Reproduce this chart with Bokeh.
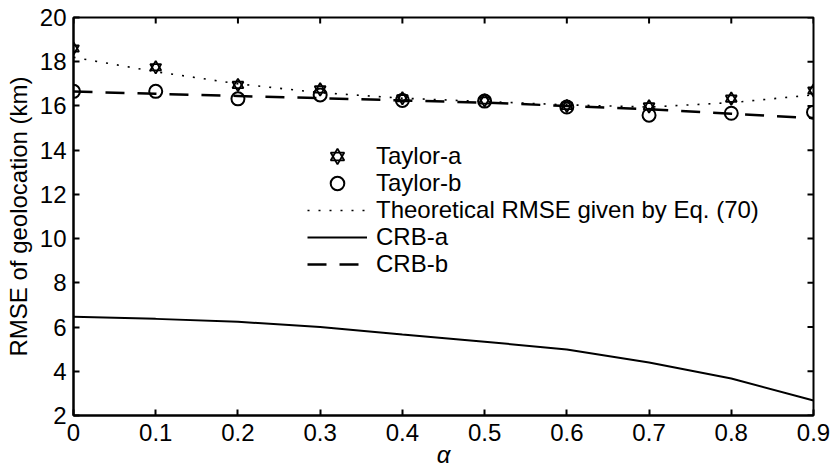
from bokeh.plotting import figure
from bokeh.models import (Legend, LegendItem, FixedTicker, ColumnDataSource,
                          BasicTickFormatter)
from bokeh.embed import file_html
from bokeh.resources import INLINE

# ---- data ----
alpha = [0, 0.1, 0.2, 0.3, 0.4, 0.5, 0.6, 0.7, 0.8, 0.9]
taylor_a = [18.6, 17.75, 16.95, 16.75, 16.35, 16.25, 16.0, 15.98, 16.33, 16.7]
taylor_b = [16.66, 16.66, 16.32, 16.5, 16.25, 16.22, 15.95, 15.58, 15.67, 15.72]
theoretical = [18.2, 17.55, 17.0, 16.6, 16.35, 16.2, 16.05, 15.95, 16.15, 16.5]
crb_a = [6.47, 6.37, 6.24, 6.0, 5.66, 5.34, 4.98, 4.4, 3.67, 2.68]
crb_b = [16.65, 16.55, 16.45, 16.35, 16.25, 16.15, 16.0, 15.85, 15.65, 15.45]

x_ticks = [0, 0.1, 0.2, 0.3, 0.4, 0.5, 0.6, 0.7, 0.8, 0.9]
x_tick_labels = ["0", "0.1", "0.2", "0.3", "0.4", "0.5", "0.6", "0.7", "0.8", "0.9"]
y_ticks = [2, 4, 6, 8, 10, 12, 14, 16, 18, 20]
x_min, x_max = 0, 0.9
y_min, y_max = 2, 20

FONT = "Liberation Sans"
FS = "24px"
LFS = "24px"

src = ColumnDataSource(dict(x=alpha, ta=taylor_a, tb=taylor_b, th=theoretical,
                            ca=crb_a, cb=crb_b))

p = figure(width=834, height=475, output_backend="svg", toolbar_location=None,
           x_range=(x_min, x_max), y_range=(y_min, y_max),
           min_border_left=73, min_border_right=21, min_border_top=17, min_border_bottom=60)

p.grid.visible = False
p.outline_line_color = "black"
p.outline_line_width = 2
p.background_fill_color = "white"
p.border_fill_color = "white"

# inward ticks on the top and right edges (half of each dash is clipped by the frame)
p.scatter(x_ticks, [y_max] * len(x_ticks), marker="dash", angle=1.5707963, size=12,
          line_color="black", line_width=2)
p.scatter([x_max] * len(y_ticks), y_ticks, marker="dash", size=12,
          line_color="black", line_width=2)

r_th = p.line("x", "th", source=src, line_color="black", line_width=1.6, line_dash="2 9")
r_ca = p.line("x", "ca", source=src, line_color="black", line_width=2)
r_cb = p.line("x", "cb", source=src, line_color="black", line_width=2.5, line_dash="19 13")
r_ta1 = p.scatter("x", "ta", source=src, marker="triangle", size=11, fill_color=None,
                  line_color="black", line_width=1.8)
r_ta2 = p.scatter("x", "ta", source=src, marker="inverted_triangle", size=11, fill_color=None,
                  line_color="black", line_width=1.8)
r_tb = p.scatter("x", "tb", source=src, marker="circle", size=13, fill_color=None,
                 line_color="black", line_width=2)

# axes
xax = p.xaxis[0]
xax.ticker = FixedTicker(ticks=x_ticks)
xax.formatter = BasicTickFormatter(precision=1)
xax.major_label_overrides = {t: l for t, l in zip(x_ticks, x_tick_labels)}
xax.axis_label = "α"
xax.axis_label_text_font_style = "italic"
xax.major_label_standoff = 8
xax.axis_label_standoff = -3

yax = p.yaxis[0]
yax.ticker = FixedTicker(ticks=y_ticks)
yax.axis_label = "RMSE of geolocation (km)"
yax.axis_label_text_font_style = "normal"
yax.major_label_standoff = 7
yax.axis_label_standoff = 5

for ax in (xax, yax):
    ax.major_label_text_font = FONT
    ax.major_label_text_font_size = FS
    ax.major_label_text_color = "black"
    ax.axis_label_text_font = FONT
    ax.axis_label_text_font_size = FS
    ax.axis_label_text_color = "black"
    ax.axis_line_color = "black"
    ax.axis_line_width = 2
    ax.major_tick_in = 6
    ax.major_tick_out = 0
    ax.major_tick_line_width = 2
    ax.minor_tick_line_color = None

# legend: one row per Legend so the row pitch matches the reference
legend_items = [
    ("Taylor-a", [r_ta1, r_ta2]),
    ("Taylor-b", [r_tb]),
    ("Theoretical RMSE given by Eq. (70)", [r_th]),
    ("CRB-a", [r_ca]),
    ("CRB-b", [r_cb]),
]
ROW_H = 34
first_offset = 242   # screen px above the frame bottom of the first row's legend box
pitch = 27
for i, (lab, rends) in enumerate(legend_items):
    lg = Legend(items=[LegendItem(label=lab, renderers=rends)],
                location=(234, first_offset - i * pitch))
    lg.label_text_font = FONT
    lg.label_text_font_size = LFS
    lg.label_text_color = "black"
    lg.border_line_color = None
    lg.background_fill_alpha = 0
    lg.padding = 0
    lg.margin = 0
    lg.spacing = 0
    lg.label_height = ROW_H
    lg.glyph_height = ROW_H
    lg.glyph_width = 60
    lg.label_standoff = 9
    p.add_layout(lg, "center")

open("out.html", "w").write(file_html(p, INLINE))
